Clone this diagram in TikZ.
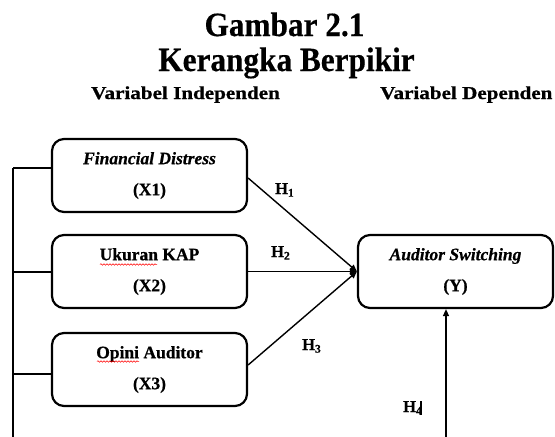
\documentclass[tikz,border=0pt]{standalone}
\usepackage{fontspec}
\setmainfont{Liberation Serif}[BoldFeatures={FakeBold=0.6}, BoldItalicFeatures={FakeBold=0.6}]
\newfontfamily\titlefont{Liberation Serif}[FakeStretch=0.92, BoldFeatures={FakeBold=0.4}]
\newfontfamily\subheadfont{Liberation Serif}[FakeStretch=1.16, BoldFeatures={FakeBold=0.8}]
\usetikzlibrary{arrows.meta,decorations.pathmorphing,calc}
\tikzset{
  varbox/.style={draw, line width=2.2pt, rounded corners=12pt, minimum width=195pt,
    minimum height=73pt, inner sep=0pt, align=center,
    font=\bfseries\fontsize{17.5}{31}\selectfont},
  conn/.style={line width=1.4pt},
  arr/.style={conn, -{Triangle[length=7pt,width=6pt]}},
  hlabel/.style={anchor=base west, inner sep=0pt, font=\bfseries\fontsize{16.5}{18}\selectfont},
  titletext/.style={anchor=base, inner sep=0pt, font=\titlefont\bfseries\fontsize{34}{34}\selectfont},
  subhead/.style={anchor=base west, inner sep=0pt, font=\subheadfont\bfseries\fontsize{18.2}{20}\selectfont},
  spell/.style={red, line width=0.5pt, decorate, decoration={snake, amplitude=0.8pt, segment length=3pt}}
}
\begin{document}
\begin{tikzpicture}[x=1pt, y=-1pt]
\useasboundingbox (0,0) rectangle (555,437);

% titles
\node[titletext] (t1) at (284.5,36) {Gambar 2.1};
\node[titletext] (t2) at (286.5,71) {Kerangka Berpikir};
\node[subhead] (s1) at (91,99) {Variabel Independen};
\node[subhead] (s2) at (380,99) {Variabel Dependen};

% boxes
\node[varbox] (X1) at (149.5,175.5) {\textit{Financial Distress}\\(X1)};
\node[varbox] (X2) at (149.5,271.5) {Ukuran KAP\\(X2)};
\node[varbox] (X3) at (149.5,369.5) {Opini Auditor\\(X3)};
\node[varbox] (Y) at (455.5,271.5) {\textit{Auditor Switching}\\(Y)};

% spell-check marks
\draw[spell] (100,264.5) -- (157,264.5);
\draw[spell] (97,361.5) -- (139,361.5);

% left bracket line
\coordinate (m1) at (13,168);
\coordinate (m2) at (13,272);
\coordinate (m3) at (13,374);
\coordinate (mb) at (13,437);
\draw[conn] (m1) -- (mb);
\draw[conn] (m1) -- (m1 -| X1.west);
\draw[conn] (m2) -- (m2 -| X2.west);
\draw[conn] (m3) -- (m3 -| X3.west);

% arrows to Y
\draw[arr] ($(X1.east)+(0,2.5)$) -- (Y.west);
\draw[arr] (X2.east) -- (Y.west);
\draw[arr] ($(X3.east)+(0,-4.5)$) -- (Y.west);
\coordinate (b4) at (446,437);
\draw[arr] (b4) -- (b4 |- Y.south);

% hypothesis labels
\node[hlabel] (h1) at (275,194) {H\textsubscript{1}};
\node[hlabel] (h2) at (271,257) {H\textsubscript{2}};
\node[hlabel] (h3) at (302,350) {H\textsubscript{3}};
\node[hlabel] (h4) at (403,412) {H\textsubscript{4}};
\draw[line width=1.2pt] (421,401) -- (421,415);
\end{tikzpicture}
\end{document}
